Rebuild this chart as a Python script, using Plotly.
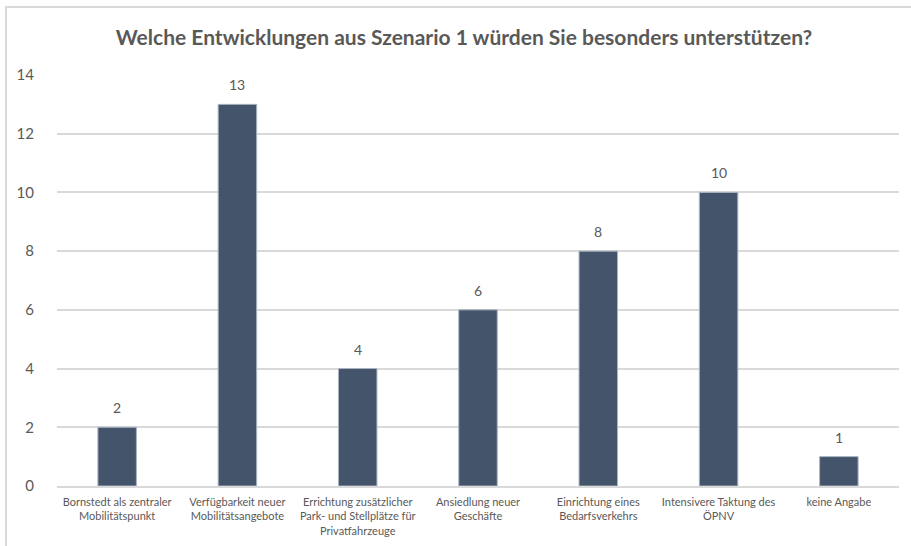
import plotly.graph_objects as go

# Survey answers: which developments from scenario 1 are supported
categories = [
    "Bornstedt als zentraler<br>Mobilitätspunkt",
    "Verfügbarkeit neuer<br>Mobilitätsangebote",
    "Errichtung zusätzlicher<br>Park- und Stellplätze für<br>Privatfahrzeuge",
    "Ansiedlung neuer<br>Geschäfte",
    "Einrichtung eines<br>Bedarfsverkehrs",
    "Intensivere Taktung des<br>ÖPNV",
    "keine Angabe",
]
counts = [2, 13, 4, 6, 8, 10, 1]
y_ticks = [0, 2, 4, 6, 8, 10, 12, 14]

title_text = "Welche Entwicklungen aus Szenario 1 würden Sie besonders unterstützen?"

BAR = "#44546A"
TEXT = "#595959"
GRID = "#D9D9D9"
FONT = "Lato, 'Open Sans', sans-serif"

fig = go.Figure(
    go.Bar(
        x=categories,
        y=counts,
        marker=dict(color=BAR, line=dict(color="#A9B3C1", width=1)),
        width=0.32,
        hoverinfo="skip",
    )
)

# value labels sitting a little above each bar
annotations = [
    dict(
        x=c,
        y=v,
        xref="x",
        yref="y",
        text=str(v),
        showarrow=False,
        yanchor="bottom",
        yshift=9,
        font=dict(size=14, color=TEXT, family=FONT),
    )
    for c, v in zip(categories, counts)
]

fig.update_layout(
    width=911,
    height=546,
    margin=dict(l=57, r=12, t=75, b=60, autoexpand=False),
    paper_bgcolor="white",
    plot_bgcolor="white",
    showlegend=False,
    annotations=annotations,
    title=dict(
        text=f"<b>{title_text}</b>",
        x=(464 - 57) / 842,
        xanchor="center",
        xref="paper",
        y=1 - 38 / 546,
        yanchor="middle",
        font=dict(size=21, color=TEXT, family=FONT),
    ),
    font=dict(family=FONT, color=TEXT),
    xaxis=dict(
        automargin=False,
        showgrid=False,
        showline=True,
        linecolor=GRID,
        linewidth=1.5,
        ticks="",
        tickangle=0,
        ticklabelstandoff=5,
        tickfont=dict(size=11, color=TEXT, family=FONT),
    ),
    yaxis=dict(
        automargin=False,
        range=[0, 14],
        tickvals=y_ticks,
        showgrid=True,
        gridcolor=GRID,
        gridwidth=1.5,
        zeroline=False,
        showline=False,
        ticks="",
        ticklabelstandoff=22,
        tickfont=dict(size=15, color=TEXT, family=FONT),
    ),
    shapes=[
        # light frame around the chart area
        dict(
            type="rect",
            xref="paper",
            yref="paper",
            x0=-51 / 842,
            x1=1.1,
            y0=-0.2,
            y1=1 + 68 / 411,
            line=dict(color="#D9D9D9", width=2),
            fillcolor="rgba(0,0,0,0)",
            layer="below",
        )
    ],
)

fig.write_html("out.html")
